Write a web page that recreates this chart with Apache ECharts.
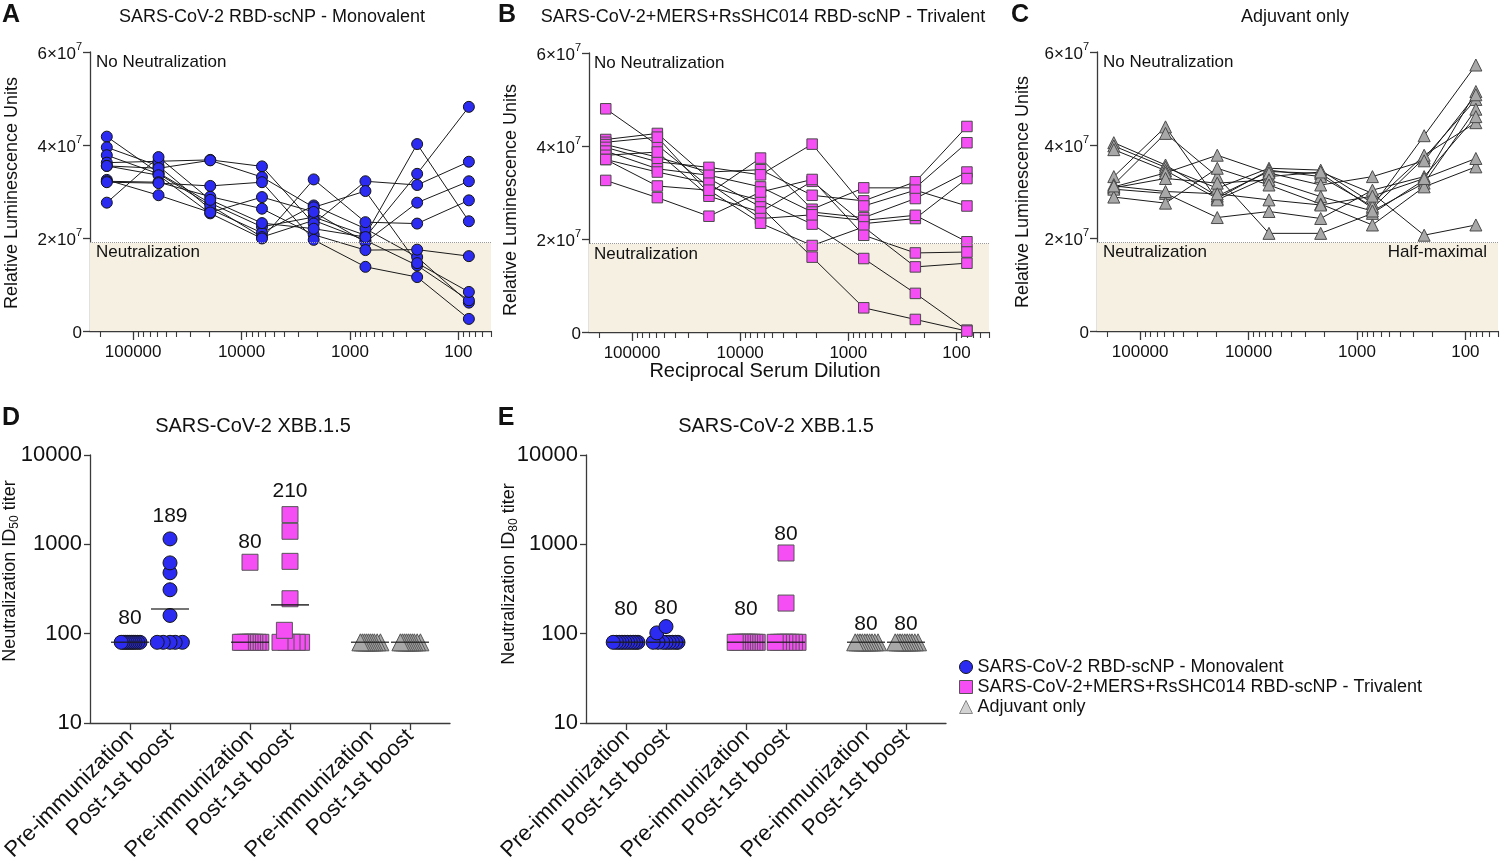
<!DOCTYPE html>
<html><head><meta charset="utf-8">
<script src="https://cdn.jsdelivr.net/npm/echarts@6/dist/echarts.min.js"></script>
<style>html,body{margin:0;padding:0;background:#fff}#c{width:1500px;height:864px}</style>
</head><body><div id="c"></div>
<script>
// ---------- data ----------
const dilutions = [174960, 58320, 19440, 6480, 2160, 720, 240, 80];
const xMajorTicks = [100000, 10000, 1000, 100];
const xMinorTicks = [200000, 90000, 80000, 70000, 60000, 50000, 40000, 30000, 20000,
  9000, 8000, 7000, 6000, 5000, 4000, 3000, 2000,
  900, 800, 700, 600, 500, 400, 300, 200, 90, 80, 70, 60, 50];
const rluTicks = [0, 2, 4, 6]; // ×10^7
const halfMaximal = 1.9;        // ×10^7

// RLU values (×10^7), one row per animal, columns follow `dilutions`
const monoRLU = [
  [4.18, 3.40, 2.75, 2.24, 2.45, 2.06, 4.02, 2.36],
  [3.95, 3.55, 2.62, 2.11, 2.70, 2.20, 1.59, 0.61],
  [3.78, 3.38, 2.70, 2.02, 2.38, 1.95, 1.41, 0.66],
  [3.62, 3.65, 3.68, 3.54, 2.31, 3.22, 3.14, 3.64],
  [3.55, 3.50, 3.67, 3.31, 2.66, 3.01, 1.46, 0.84],
  [3.55, 3.35, 2.53, 1.99, 3.26, 2.34, 2.31, 2.81],
  [3.25, 2.92, 2.55, 2.88, 2.56, 1.91, 2.76, 3.22],
  [3.22, 3.20, 2.89, 2.63, 2.07, 1.74, 1.75, 1.61],
  [3.20, 3.18, 3.12, 3.20, 1.96, 1.38, 1.16, 0.26],
  [2.76, 3.74, 2.82, 2.32, 2.20, 2.02, 3.38, 4.82]
];
const triRLU = [
  [4.80, 4.02, 3.12, 2.83, 2.32, 1.58, 0.83, 0.04],
  [4.14, 4.27, 3.30, 2.69, 1.61, 0.52, 0.27, 0.02],
  [4.08, 4.19, 2.98, 3.74, 2.64, 3.10, 3.10, 4.07],
  [4.03, 3.76, 3.44, 3.49, 2.94, 2.82, 3.23, 4.42],
  [3.97, 3.66, 3.54, 3.38, 4.04, 2.71, 3.05, 2.71],
  [3.89, 3.51, 3.37, 3.12, 2.58, 2.46, 2.87, 3.44],
  [3.80, 3.87, 2.92, 2.58, 3.24, 2.33, 2.44, 3.30],
  [3.71, 3.44, 3.20, 2.44, 2.52, 2.40, 2.51, 1.94],
  [3.71, 3.14, 3.05, 2.34, 1.86, 2.26, 1.40, 1.48],
  [3.26, 2.89, 2.49, 3.01, 3.28, 2.08, 1.70, 1.72]
];
const adjRLU = [
  [4.05, 3.57, 2.90, 3.43, 3.39, 2.64, 3.72, 4.98],
  [3.98, 3.52, 3.07, 3.50, 3.46, 2.75, 3.78, 4.48],
  [3.90, 3.45, 2.85, 3.46, 3.32, 2.68, 4.20, 5.72],
  [3.32, 4.39, 2.82, 3.32, 3.42, 2.96, 2.06, 2.28],
  [3.15, 4.25, 3.32, 2.10, 2.10, 2.53, 3.25, 5.15],
  [3.10, 3.40, 3.78, 3.40, 3.14, 3.32, 3.66, 5.08],
  [3.08, 3.28, 3.18, 3.25, 2.89, 2.58, 3.18, 4.77],
  [3.05, 2.96, 2.44, 2.57, 2.42, 3.03, 3.32, 4.61],
  [2.88, 2.75, 3.50, 3.14, 2.73, 2.28, 3.10, 3.53],
  [3.12, 3.00, 2.95, 2.82, 2.71, 2.90, 3.28, 3.71]
];

// Titer panels: groups in order mono pre, mono post, tri pre, tri post, adj pre, adj post
const groupLabels = ['Pre-immunization', 'Post-1st boost', 'Pre-immunization', 'Post-1st boost', 'Pre-immunization', 'Post-1st boost'];
const groupPos = [1, 2, 4, 5, 7, 8];
const seriesNames = ['SARS-CoV-2 RBD-scNP - Monovalent', 'SARS-CoV-2+MERS+RsSHC014 RBD-scNP - Trivalent', 'Adjuvant only'];
const titerTicks = [10, 100, 1000, 10000];

const id50Values = [
  [80, 80, 80, 80, 80, 80, 80, 80, 80, 80],
  [1150, 620, 480, 310, 160, 80, 80, 80, 80, 80],
  [630, 80, 80, 80, 80, 80, 80, 80, 80, 80],
  [2150, 1400, 645, 246, 109, 80, 80, 80, 80, 80],
  [80, 80, 80, 80, 80, 80, 80, 80, 80, 80],
  [80, 80, 80, 80, 80, 80, 80, 80, 80, 80]
];
const id50Medians = [80, 189, 80, 210, 80, 80];
const id50MedianText = ['80', '189', '80', '210', '', ''];
const id50TextAnchor = [150, 2050, 1050, 3900, null, null];

const id80Values = [
  [80, 80, 80, 80, 80, 80, 80, 80, 80, 80],
  [120, 102, 80, 80, 80, 80, 80, 80, 80, 80],
  [80, 80, 80, 80, 80, 80, 80, 80, 80, 80],
  [800, 220, 80, 80, 80, 80, 80, 80, 80, 80],
  [80, 80, 80, 80, 80, 80, 80, 80, 80, 80],
  [80, 80, 80, 80, 80, 80, 80, 80, 80, 80]
];
const id80Medians = [80, 80, 80, 80, 80, 80];
const id80MedianText = ['80', '80', '80', '80', '80', '80'];
const id80TextAnchor = [190, 195, 190, 1290, 126, 126];

// horizontal scatter offsets (in category units) used to spread overlapping points
const id50Jitter = [
  [-0.22, -0.17, -0.12, -0.07, -0.02, 0.03, 0.08, 0.13, 0.19, 0.25],
  [0, 0, 0, 0, 0, -0.32, -0.17, 0, 0.13, 0.31],
  [0, -0.24, -0.19, -0.12, -0.06, 0, 0.06, 0.12, 0.2, 0.27],
  [0, 0, 0, 0, -0.14, -0.25, -0.1, 0.05, 0.18, 0.29],
  [-0.24, -0.19, -0.14, -0.09, -0.04, 0.01, 0.06, 0.11, 0.18, 0.26],
  [-0.24, -0.19, -0.14, -0.09, -0.04, 0.01, 0.06, 0.11, 0.18, 0.26]
];
const id80Jitter = [
  [-0.32, -0.24, -0.17, -0.1, -0.03, 0.04, 0.11, 0.18, 0.24, 0.3],
  [0, -0.23, -0.32, -0.2, -0.08, 0, 0.08, 0.16, 0.24, 0.3],
  [-0.27, -0.21, -0.15, -0.09, -0.03, 0.03, 0.09, 0.15, 0.22, 0.28],
  [0, 0, -0.27, -0.19, -0.11, -0.03, 0.05, 0.13, 0.21, 0.3],
  [-0.27, -0.21, -0.15, -0.09, -0.03, 0.03, 0.09, 0.15, 0.22, 0.3],
  [-0.27, -0.21, -0.15, -0.09, -0.03, 0.03, 0.09, 0.15, 0.22, 0.3]
];

// ---------- styles ----------
const FONT = "'Liberation Sans', Arial, sans-serif";
const AX = '#3a3a3a';
const TXT = '#111';
const BLUE = '#2b2bf2', MAGENTA = '#f44ef4', GRAY = '#a8a8a8';
const SHADE = '#f6f0e2';

const chart = echarts.init(document.getElementById('c'), null, {renderer: 'canvas'});

const grids = [
  {left: 90, top: 52, width: 401, height: 279},
  {left: 589, top: 53, width: 400, height: 279},
  {left: 1097, top: 52, width: 401, height: 279},
  {left: 90, top: 455, width: 360, height: 268},
  {left: 586, top: 455, width: 360, height: 268}
].map(g => Object.assign({outerBoundsMode: 'none', containLabel: false}, g));

const xAxes = [], yAxes = [];
for (let p = 0; p < 3; p++) {
  xAxes.push({
    type: 'log', gridIndex: p, min: 50, max: 250000, inverse: true, position: 'bottom',
    axisLine: {show: true, onZero: false, lineStyle: {color: AX, width: 1.3}},
    axisTick: {show: true, length: 9, customValues: xMajorTicks, lineStyle: {color: AX, width: 1.3}},
    axisLabel: {customValues: xMajorTicks, formatter: v => String(Math.round(v)), fontSize: 17, fontFamily: FONT, color: TXT, margin: 13},
    splitLine: {show: false}
  });
  xAxes.push({
    type: 'log', gridIndex: p, min: 50, max: 250000, inverse: true, position: 'bottom',
    axisLine: {show: false, onZero: false},
    axisTick: {show: true, length: 6, customValues: xMinorTicks, lineStyle: {color: AX, width: 1.1}},
    axisLabel: {show: false},
    splitLine: {show: false}
  });
  yAxes.push({
    type: 'value', gridIndex: p, min: 0, max: 6, interval: 2,
    axisLine: {show: true, lineStyle: {color: AX, width: 1.3}},
    axisTick: {show: true, length: 7, customValues: rluTicks, lineStyle: {color: AX, width: 1.3}},
    axisLabel: {
      customValues: rluTicks, margin: 8,
      formatter: v => v === 0 ? '{b|0}' : '{b|' + v + '×10}{s|7}',
      rich: {
        b: {fontSize: 17, fontFamily: FONT, color: TXT, lineHeight: 22, verticalAlign: 'bottom'},
        s: {fontSize: 11, fontFamily: FONT, color: TXT, lineHeight: 12, verticalAlign: 'top'}
      }
    },
    splitLine: {show: false}
  });
}
for (let p = 3; p < 5; p++) {
  xAxes.push({
    type: 'value', gridIndex: p, min: 0, max: 9,
    axisLine: {show: true, onZero: false, lineStyle: {color: AX, width: 1.3}},
    axisTick: {show: true, length: 7, customValues: groupPos, lineStyle: {color: AX, width: 1.3}},
    axisLabel: {customValues: groupPos, rotate: 45, margin: 10, fontSize: 22, fontFamily: FONT, color: TXT,
      formatter: v => { const k = groupPos.indexOf(Math.round(v)); return k >= 0 ? groupLabels[k] : ''; }},
    splitLine: {show: false}
  });
  yAxes.push({
    type: 'log', gridIndex: p, min: 10, max: 10000, logBase: 10,
    axisLine: {show: true, onZero: false, lineStyle: {color: AX, width: 1.3}},
    axisTick: {show: true, length: 6, customValues: titerTicks, lineStyle: {color: AX, width: 1.3}},
    axisLabel: {customValues: titerTicks, margin: 8, fontSize: 22, fontFamily: FONT, color: TXT,
      formatter: v => String(Math.round(v))},
    splitLine: {show: false}
  });
}

const series = [];
const panels = [
  {rows: monoRLU, symbol: 'circle', size: 11, color: BLUE, border: '#151515'},
  {rows: triRLU, symbol: 'rect', size: 10.5, color: MAGENTA, border: '#4a4a4a'},
  {rows: adjRLU, symbol: 'triangle', size: 12, color: GRAY, border: '#4a4a4a'}
];
panels.forEach((pn, p) => {
  series.push({
    type: 'line', xAxisIndex: 2 * p, yAxisIndex: p, data: [], z: 1, silent: true,
    markArea: {silent: true, itemStyle: {color: SHADE}, data: [[{yAxis: 0}, {yAxis: halfMaximal}]]},
    markLine: {silent: true, symbol: 'none', label: {show: false},
      lineStyle: {type: 'dotted', color: '#9a9a9a', width: 1}, data: [{yAxis: halfMaximal}]}
  });
  pn.rows.forEach(row => {
    series.push({
      type: 'line', xAxisIndex: 2 * p, yAxisIndex: p, z: 2, silent: true,
      symbol: 'none', lineStyle: {color: '#1a1a1a', width: 1},
      data: dilutions.map((d, j) => [d, row[j]])
    });
  });
  const pts = [];
  pn.rows.forEach(row => dilutions.forEach((d, j) => pts.push([d, row[j]])));
  series.push({
    type: 'scatter', xAxisIndex: 2 * p, yAxisIndex: p, z: 3, silent: true,
    symbol: pn.symbol, symbolSize: pn.size, data: pts,
    itemStyle: {color: pn.color, borderColor: pn.border, borderWidth: 1, opacity: 1}
  });
});

const titerPanels = [
  {values: id50Values, jitter: id50Jitter, med: id50Medians, txt: id50MedianText, at: id50TextAnchor},
  {values: id80Values, jitter: id80Jitter, med: id80Medians, txt: id80MedianText, at: id80TextAnchor}
];
const markers = [
  {symbol: 'circle', size: 14, color: BLUE, border: '#151515'},
  {symbol: 'rect', size: 16, color: MAGENTA, border: '#555'},
  {symbol: 'triangle', size: 17, color: GRAY, border: '#555'}
];
titerPanels.forEach((tp, t) => {
  const xi = 6 + t, yi = 3 + t;
  for (let s = 0; s < 3; s++) {
    const pts = [];
    for (let g = 2 * s; g < 2 * s + 2; g++) {
      tp.values[g].forEach((v, i) => pts.push([groupPos[g] + tp.jitter[g][i], v]));
    }
    const mk = markers[s];
    series.push({
      name: seriesNames[s], type: 'scatter', xAxisIndex: xi, yAxisIndex: yi, z: 3, silent: true,
      symbol: mk.symbol, symbolSize: mk.size, data: pts.reverse(),
      itemStyle: {color: mk.color, borderColor: mk.border, borderWidth: 1, opacity: 1}
    });
  }
  series.push({
    type: 'scatter', xAxisIndex: xi, yAxisIndex: yi, z: 5, silent: true,
    symbol: 'rect', symbolSize: [38, 1.6], itemStyle: {color: '#1a1a1a'},
    data: groupPos.map((x, g) => [x, tp.med[g]])
  });
  const lab = [];
  groupPos.forEach((x, g) => { if (tp.txt[g]) lab.push({value: [x, tp.at[g]], name: tp.txt[g]}); });
  series.push({
    type: 'scatter', xAxisIndex: xi, yAxisIndex: yi, z: 6, silent: true,
    symbol: 'circle', symbolSize: 2, itemStyle: {color: 'rgba(0,0,0,0)'},
    label: {show: true, position: [1, 1], align: 'center', verticalAlign: 'middle',
      formatter: p => p.name, fontSize: 21, fontFamily: FONT, color: TXT,
      textBorderWidth: 0, opacity: 1},
    labelLayout: {hideOverlap: false},
    data: lab
  });
});

function txt(text, x, y, o) {
  o = o || {};
  return {
    type: 'text', x: x, y: y, rotation: o.rot || 0, silent: true, z: 100,
    style: Object.assign({
      text: text, fontSize: o.size || 17, fontFamily: FONT, fill: TXT,
      fontWeight: o.weight || 'normal',
      align: o.align || 'center', verticalAlign: 'middle',
      textAlign: o.align || 'center', textVerticalAlign: 'middle'
    }, o.rich ? {rich: o.rich} : {})
  };
}
const subRich = {
  a: {fontSize: 18, fontFamily: FONT, fill: TXT, color: TXT, lineHeight: 22, verticalAlign: 'middle'},
  s: {fontSize: 12, fontFamily: FONT, fill: TXT, color: TXT, lineHeight: 12, verticalAlign: 'bottom'}
};
const graphics = [
  txt('A', 11, 15, {size: 25, weight: 'bold'}),
  txt('B', 507, 15, {size: 25, weight: 'bold'}),
  txt('C', 1020, 15, {size: 25, weight: 'bold'}),
  txt('D', 11, 418, {size: 25, weight: 'bold'}),
  txt('E', 506, 418, {size: 25, weight: 'bold'}),
  txt('SARS-CoV-2 RBD-scNP - Monovalent', 272, 17, {size: 18}),
  txt('SARS-CoV-2+MERS+RsSHC014 RBD-scNP - Trivalent', 763, 17, {size: 18}),
  txt('Adjuvant only', 1295, 17, {size: 18}),
  txt('SARS-CoV-2 XBB.1.5', 253, 426, {size: 20}),
  txt('SARS-CoV-2 XBB.1.5', 776, 426, {size: 20}),
  txt('Relative Luminescence Units', 12, 193, {size: 18, rot: Math.PI / 2}),
  txt('Relative Luminescence Units', 511, 200, {size: 18, rot: Math.PI / 2}),
  txt('Relative Luminescence Units', 1023, 192, {size: 18, rot: Math.PI / 2}),
  txt('{a|Neutralization ID}{s|50}{a| titer}', 10, 571, {rot: Math.PI / 2, rich: subRich}),
  txt('{a|Neutralization ID}{s|80}{a| titer}', 509, 574, {rot: Math.PI / 2, rich: subRich}),
  txt('Reciprocal Serum Dilution', 765, 371, {size: 20}),
  txt('No Neutralization', 96, 62, {align: 'left'}),
  txt('Neutralization', 96, 252, {align: 'left'}),
  txt('No Neutralization', 594, 63, {align: 'left'}),
  txt('Neutralization', 594, 254, {align: 'left'}),
  txt('No Neutralization', 1103, 62, {align: 'left'}),
  txt('Neutralization', 1103, 252, {align: 'left'}),
  txt('Half-maximal', 1487, 252, {align: 'right'})
];

chart.setOption({
  animation: false,
  backgroundColor: '#fff',
  textStyle: {fontFamily: FONT},
  grid: grids,
  xAxis: xAxes,
  yAxis: yAxes,
  legend: {
    orient: 'vertical', left: 954, top: 653, itemWidth: 13, itemHeight: 13, itemGap: 2,
    selectedMode: false,
    textStyle: {fontSize: 18, fontFamily: FONT, color: TXT},
    data: [
      {name: seriesNames[0], icon: 'circle', itemStyle: {color: BLUE, borderColor: '#151515', borderWidth: 1}},
      {name: seriesNames[1], icon: 'rect', itemStyle: {color: MAGENTA, borderColor: '#555', borderWidth: 1}},
      {name: seriesNames[2], icon: 'triangle', itemStyle: {color: '#d2d2d2', borderColor: '#888', borderWidth: 1}}
    ]
  },
  graphic: graphics,
  series: series
});
</script>
</body></html>
